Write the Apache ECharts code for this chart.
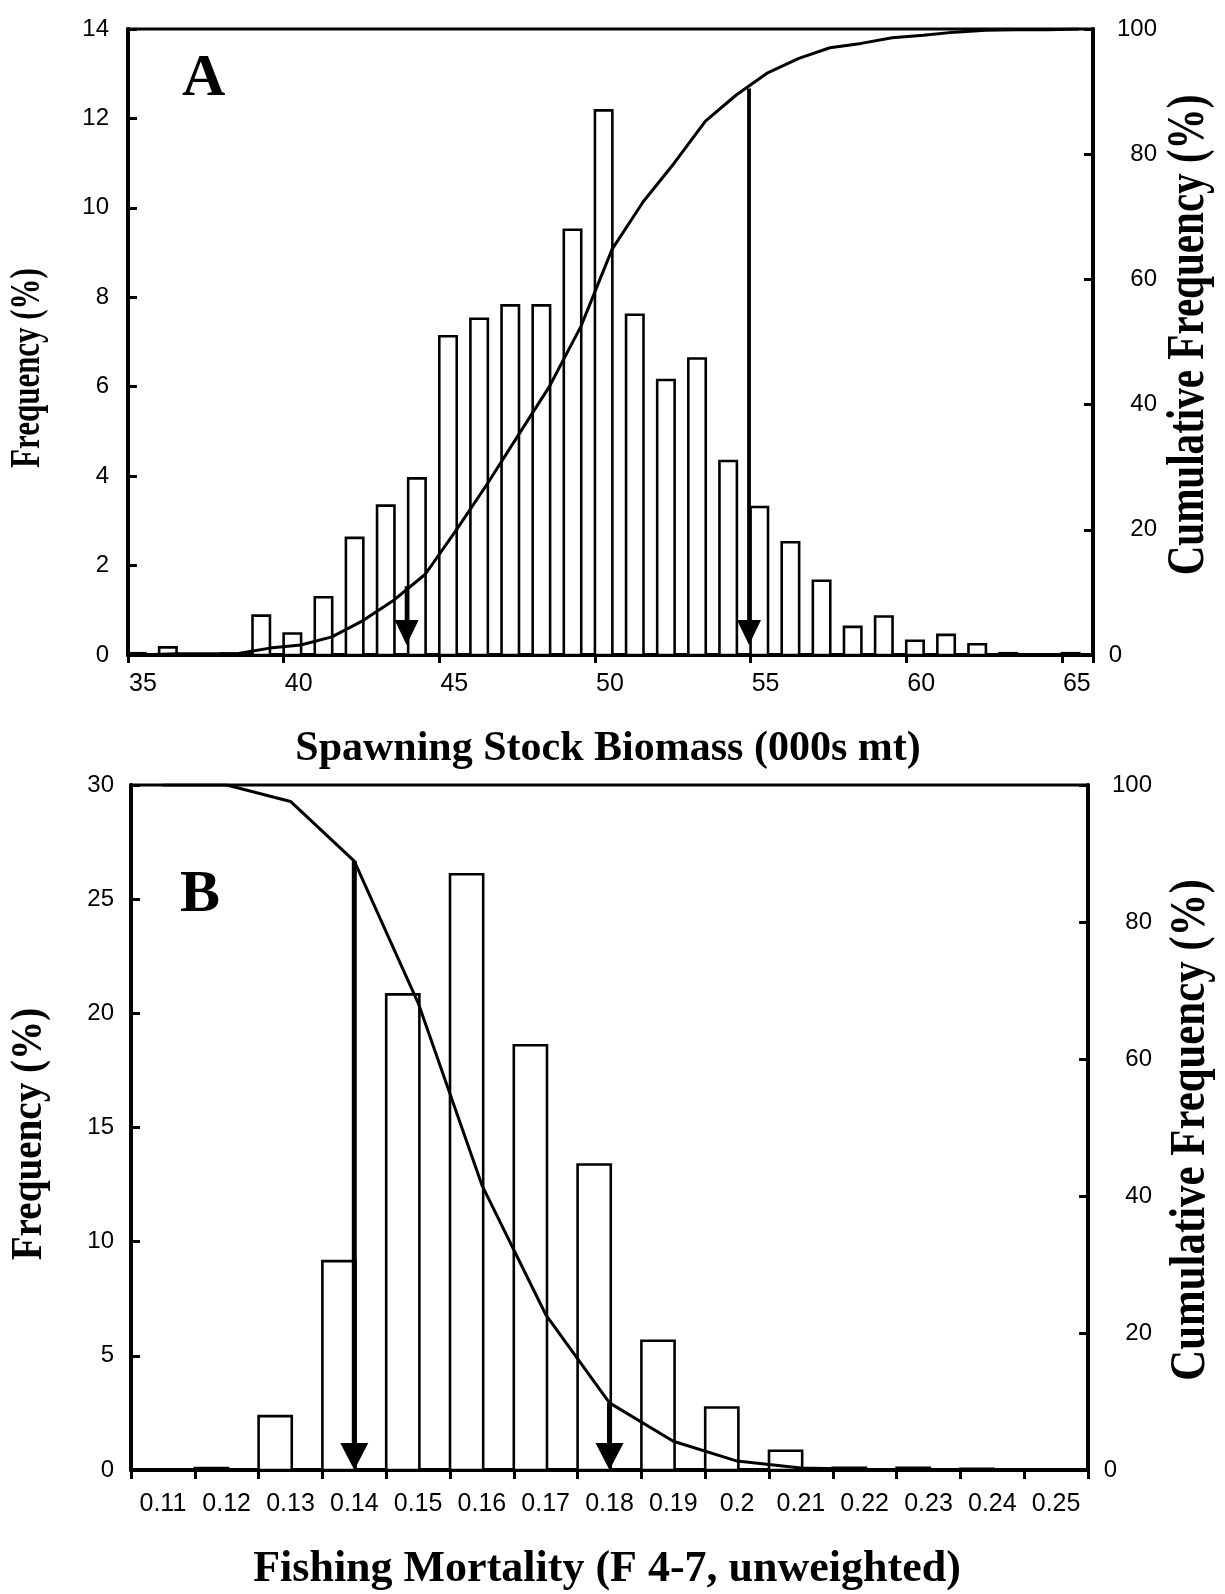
<!DOCTYPE html>
<html><head><meta charset="utf-8">
<script src="https://cdn.jsdelivr.net/npm/echarts@6.0.0/dist/echarts.min.js"></script>
<style>html,body{margin:0;padding:0;background:#fff}#c{width:1225px;height:1594px}</style>
</head><body><div id="c"></div>
<script>
// ---------- Panel A: Spawning Stock Biomass ----------
const ssbBins = [35,36,37,38,39,40,41,42,43,44,45,46,47,48,49,50,51,52,53,54,55,56,57,58,59,60,61,62,63,64,65];
const ssbFreq = [0.04,0.17,0,0.03,0.88,0.48,1.29,2.62,3.34,3.95,7.13,7.52,7.82,7.82,9.51,12.18,7.61,6.15,6.63,4.34,3.31,2.52,1.66,0.63,0.86,0.32,0.45,0.24,0.04,0,0.04];
const ssbCumX = [35.55,36.55,37.55,38.55,39.55,40.55,41.55,42.55,43.55,44.55,45.55,46.55,47.55,48.55,49.55,50.55,51.55,52.55,53.55,54.55,55.55,56.55,57.55,58.55,59.55,60.55,61.55,62.55,63.55,64.55,65.55];
const ssbCumPct = [0.05,0.2,0.2,0.25,1.1,1.6,2.9,5.5,8.8,12.9,20.0,27.4,35.2,43.0,52.5,64.8,72.4,78.6,85.3,89.5,93.0,95.3,97.0,97.7,98.6,99.0,99.5,99.8,99.9,99.9,100];
const ssbArrowX = [43.95, 54.95];
const ssbArrowTop = [11, 90.5];

// ---------- Panel B: Fishing Mortality ----------
const fCategories = ['0.11','0.12','0.13','0.14','0.15','0.16','0.17','0.18','0.19','0.2','0.21','0.22','0.23','0.24','0.25'];
const fFreq = [0,0.08,2.36,9.15,20.83,26.09,18.6,13.38,5.66,2.74,0.84,0.1,0.1,0.05,0];
const fCumPct = [100,100,97.6,88.9,68.2,41.6,22.7,9.8,4.2,1.3,0.3,0.1,0,0,0];
const fArrowCat = ['0.14','0.18'];
const fArrowTop = [88.9, 9.8];

const BLACK = '#000';
const SANS = '"Liberation Sans", Arial, sans-serif';
const SERIF = '"Liberation Serif", "Times New Roman", serif';

function arrowRenderer(opt) {
  return function (params, api) {
    const x = api.value(0), t = api.value(1);
    const top = api.coord([x, t]);
    const base = api.coord([x, 0]);
    const cx = top[0];
    const tipY = base[1] - opt.tipOffset;
    const headTop = tipY - opt.headH;
    return {
      type: 'group',
      children: [
        {type: 'line', shape: {x1: cx, y1: top[1], x2: cx, y2: headTop + 2},
         style: {stroke: BLACK, lineWidth: opt.shaftW}},
        {type: 'polygon', shape: {points: [[cx - opt.headW / 2, headTop], [cx + opt.headW / 2, headTop], [cx, tipY]]},
         style: {fill: BLACK}}
      ]
    };
  };
}

const chart = echarts.init(document.getElementById('c'), null, {renderer: 'canvas'});

const axisLineStyle = {show: true, lineStyle: {color: BLACK, width: 4}};
const tickIn = {show: true, inside: true, length: 9, lineStyle: {color: BLACK, width: 3}};
function leftLabel(margin) {
  return {color: BLACK, fontFamily: SANS, fontSize: 24, margin: margin};
}
function rightLabel() {
  return {color: BLACK, fontFamily: SANS, fontSize: 24, margin: 64, align: 'right',
    formatter: v => (v === 0 ? '{z|0}' : String(v)),
    rich: {z: {color: BLACK, fontFamily: SANS, fontSize: 24, padding: [0, 35, 0, 0]}}};
}

function vText(text, x, y, size, sx) {
  return {type: 'text', x: x, y: y, rotation: Math.PI / 2, scaleX: sx, scaleY: 1,
    style: {text: text, font: 'bold ' + size + 'px ' + SERIF, fill: BLACK,
      align: 'center', verticalAlign: 'middle', textAlign: 'center', textVerticalAlign: 'middle'}};
}
function hText(text, x, y, size, align) {
  return {type: 'text', x: x, y: y, z: 10,
    style: {text: text, font: 'bold ' + size + 'px ' + SERIF, fill: BLACK,
      align: align, verticalAlign: 'middle', textAlign: align, textVerticalAlign: 'middle'}};
}

const option = {
  animation: false,
  backgroundColor: '#fff',
  grid: [
    {left: 128, top: 29, width: 965, height: 626, show: true, borderColor: BLACK, borderWidth: 3, backgroundColor: 'transparent'},
    {left: 131, top: 785, width: 957, height: 685, show: true, borderColor: BLACK, borderWidth: 3, backgroundColor: 'transparent'}
  ],
  xAxis: [
    {gridIndex: 0, type: 'value', min: 35, max: 66, interval: 5,
     axisLine: axisLineStyle,
     axisTick: {show: true, inside: false, length: 8, lineStyle: {color: BLACK, width: 3}},
     axisLabel: {color: BLACK, fontFamily: SANS, fontSize: 25, margin: 17, padding: [0, 0, 0, 30],
       formatter: v => (v > 65 ? '' : String(v))},
     splitLine: {show: false}},
    {gridIndex: 1, type: 'category', data: fCategories, boundaryGap: true,
     axisLine: axisLineStyle,
     axisTick: {show: true, inside: false, length: 9, interval: 0, lineStyle: {color: BLACK, width: 3}},
     axisLabel: {color: BLACK, fontFamily: SANS, fontSize: 25, margin: 22, interval: 0},
     splitLine: {show: false}}
  ],
  yAxis: [
    {gridIndex: 0, type: 'value', min: 0, max: 14, interval: 2, position: 'left',
     axisLine: axisLineStyle, axisTick: tickIn, axisLabel: leftLabel(19), splitLine: {show: false}},
    {gridIndex: 0, type: 'value', min: 0, max: 100, interval: 20, position: 'right',
     axisLine: axisLineStyle, axisTick: tickIn, axisLabel: rightLabel(), splitLine: {show: false}},
    {gridIndex: 1, type: 'value', min: 0, max: 30, interval: 5, position: 'left',
     axisLine: axisLineStyle, axisTick: tickIn, axisLabel: leftLabel(17), splitLine: {show: false}},
    {gridIndex: 1, type: 'value', min: 0, max: 100, interval: 20, position: 'right',
     axisLine: axisLineStyle, axisTick: tickIn, axisLabel: rightLabel(), splitLine: {show: false}}
  ],
  series: [
    {type: 'custom', name: 'SSB frequency', xAxisIndex: 0, yAxisIndex: 0, z: 2,
     data: ssbBins.map((b, i) => [b, ssbFreq[i]]),
     renderItem: function (params, api) {
       const x0 = api.value(0), v = api.value(1);
       if (!(v > 0)) return null;
       const p0 = api.coord([x0, v]);
       const p1 = api.coord([x0 + 0.56, 0]);
       return {type: 'rect', shape: {x: p0[0], y: p0[1], width: p1[0] - p0[0], height: p1[1] - p0[1]},
               style: {fill: '#fff', stroke: BLACK, lineWidth: 2.6}};
     }},
    {type: 'line', name: 'SSB cumulative', xAxisIndex: 0, yAxisIndex: 1, z: 3,
     data: ssbCumX.map((x, i) => [x, ssbCumPct[i]]),
     symbol: 'none', lineStyle: {color: BLACK, width: 3}},
    {type: 'custom', name: 'SSB arrows', xAxisIndex: 0, yAxisIndex: 1, z: 4,
     data: ssbArrowX.map((x, i) => [x, ssbArrowTop[i]]),
     renderItem: arrowRenderer({tipOffset: 10, headW: 24, headH: 25, shaftW: 3.8})},

    {type: 'custom', name: 'F frequency', xAxisIndex: 1, yAxisIndex: 2, z: 2,
     data: fFreq.map((v, i) => [i, v]),
     renderItem: function (params, api) {
       const idx = api.value(0), v = api.value(1);
       if (!(v > 0)) return null;
       const c = api.coord([idx, v]);
       const b = api.coord([idx, 0]);
       const bw = api.size([1, 0])[0];
       const left = c[0] - bw / 2;
       return {type: 'rect', shape: {x: left, y: c[1], width: bw * 0.52, height: b[1] - c[1]},
               style: {fill: '#fff', stroke: BLACK, lineWidth: 2.6}};
     }},
    {type: 'line', name: 'F cumulative', xAxisIndex: 1, yAxisIndex: 3, z: 3,
     data: fCumPct, symbol: 'none', lineStyle: {color: BLACK, width: 3}},
    {type: 'custom', name: 'F arrows', xAxisIndex: 1, yAxisIndex: 3, z: 4,
     data: fArrowCat.map((c, i) => [fCategories.indexOf(c), fArrowTop[i]]),
     renderItem: arrowRenderer({tipOffset: 0, headW: 28, headH: 27, shaftW: 5})}
  ],
  graphic: [
    hText('A', 182, 79, 60, 'left'),
    hText('B', 180, 895, 60, 'left'),
    hText('Spawning Stock Biomass (000s mt)', 608, 749, 42, 'center'),
    hText('Fishing Mortality (F 4-7, unweighted)', 607, 1570, 44, 'center'),
    vText('Frequency (%)', 28, 368, 43, 0.72),
    vText('Frequency (%)', 29, 1134, 45, 0.87),
    vText('Cumulative Frequency (%)', 1190, 335, 52, 0.79),
    vText('Cumulative Frequency (%)', 1191, 1130, 51, 0.84)
  ]
};
chart.setOption(option);
</script></body></html>
